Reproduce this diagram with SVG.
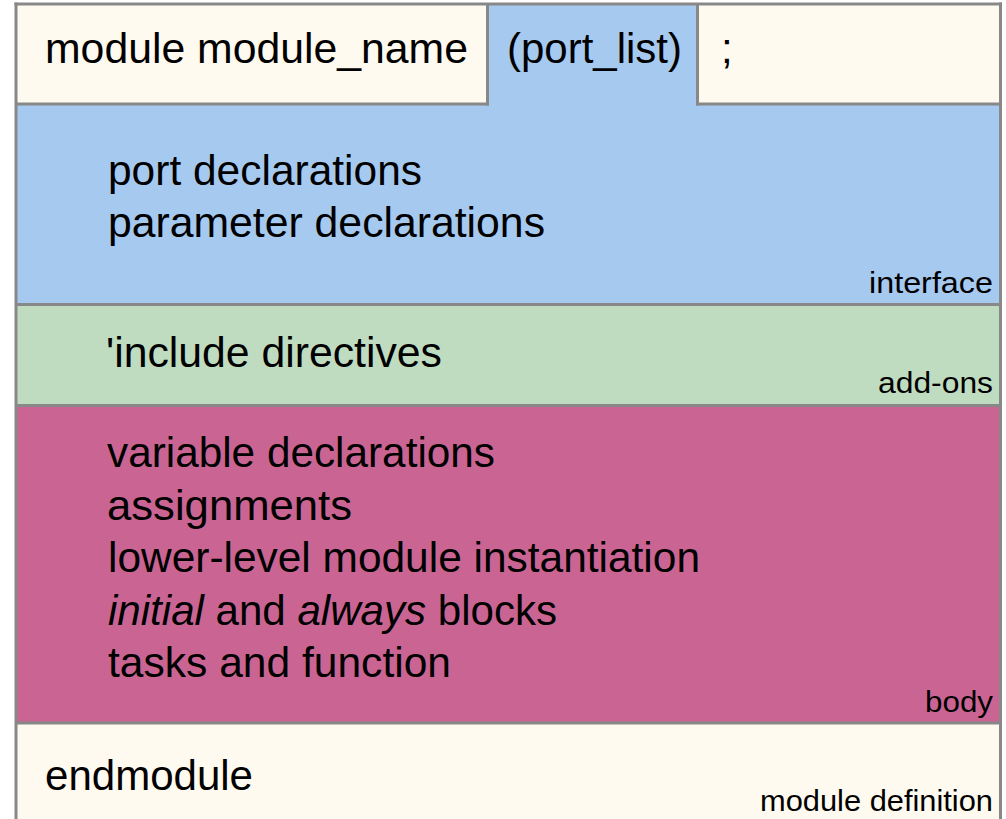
<svg xmlns="http://www.w3.org/2000/svg" width="1006" height="819" viewBox="0 0 1006 819">
  <style>
    .txt { font-family: "Liberation Sans", Arial, sans-serif; font-size: 42px; fill: #000; }
    .lbl { font-family: "Liberation Sans", Arial, sans-serif; font-size: 30px; fill: #000; }
    .it { font-style: italic; }
    .rule { stroke: #888888; stroke-width: 3; fill: none; }
    .cream { fill: #FFFAEF; }
    .blue { fill: #A6C9EF; }
    .green { fill: #BFDCC1; }
    .pink { fill: #CA6593; }
  </style>
  <rect x="0" y="0" width="1006" height="819" fill="#ffffff"/>

  <!-- header row: module keyword and name -->
  <g id="header-name">
    <rect class="cream" x="16" y="4" width="472" height="100"/>
    <text class="txt" x="45" y="63" textLength="423" lengthAdjust="spacingAndGlyphs">module module_name</text>
  </g>

  <!-- header row: port list (part of the interface) -->
  <g id="header-ports">
    <rect class="blue" x="488" y="4" width="210" height="101"/>
    <text class="txt" x="507" y="63" textLength="175" lengthAdjust="spacingAndGlyphs">(port_list)</text>
  </g>

  <!-- header row: terminating semicolon -->
  <g id="header-semicolon">
    <rect class="cream" x="698" y="4" width="302" height="100"/>
    <text class="txt" x="721" y="63">;</text>
  </g>

  <!-- interface section -->
  <g id="interface">
    <rect class="blue" x="16" y="104" width="984" height="201"/>
    <text class="txt" x="108" y="185" textLength="314" lengthAdjust="spacingAndGlyphs">port declarations</text>
    <text class="txt" x="108" y="237" textLength="437" lengthAdjust="spacingAndGlyphs">parameter declarations</text>
    <text class="lbl" x="869" y="293" textLength="124" lengthAdjust="spacingAndGlyphs">interface</text>
  </g>

  <!-- add-ons section -->
  <g id="add-ons">
    <rect class="green" x="16" y="305" width="984" height="100"/>
    <text class="txt" x="106" y="367" textLength="336" lengthAdjust="spacingAndGlyphs">'include directives</text>
    <text class="lbl" x="878" y="393" textLength="115" lengthAdjust="spacingAndGlyphs">add-ons</text>
  </g>

  <!-- body section -->
  <g id="body">
    <rect class="pink" x="16" y="405" width="984" height="318"/>
    <text class="txt" x="107" y="467" textLength="388" lengthAdjust="spacingAndGlyphs">variable declarations</text>
    <text class="txt" x="107" y="520" textLength="245" lengthAdjust="spacingAndGlyphs">assignments</text>
    <text class="txt" x="108" y="572" textLength="592" lengthAdjust="spacingAndGlyphs">lower-level module instantiation</text>
    <text class="txt" x="108" y="625" textLength="449" lengthAdjust="spacingAndGlyphs"><tspan class="it">initial</tspan> and <tspan class="it">always</tspan> blocks</text>
    <text class="txt" x="108" y="677" textLength="343" lengthAdjust="spacingAndGlyphs">tasks and function</text>
    <text class="lbl" x="925" y="712" textLength="68" lengthAdjust="spacingAndGlyphs">body</text>
  </g>

  <!-- closing keyword -->
  <g id="footer">
    <rect class="cream" x="16" y="723" width="984" height="96"/>
    <text class="txt" x="45" y="790" textLength="208" lengthAdjust="spacingAndGlyphs">endmodule</text>
    <text class="lbl" x="760" y="811" textLength="233" lengthAdjust="spacingAndGlyphs">module definition</text>
  </g>

  <!-- section rules -->
  <g id="rules" class="rule">
    <line x1="14.5" y1="4" x2="1002" y2="4"/>
    <line x1="16" y1="2.5" x2="16" y2="819"/>
    <line x1="1000.5" y1="2.5" x2="1000.5" y2="819"/>
    <line x1="16" y1="104" x2="489" y2="104"/>
    <line x1="487.5" y1="4" x2="487.5" y2="105.5"/>
    <line x1="697.5" y1="4" x2="697.5" y2="105.5"/>
    <line x1="696" y1="104" x2="1000" y2="104"/>
    <line x1="16" y1="304.5" x2="1000" y2="304.5"/>
    <line x1="16" y1="405.5" x2="1000" y2="405.5"/>
    <line x1="16" y1="723" x2="1000" y2="723"/>
  </g>
</svg>
